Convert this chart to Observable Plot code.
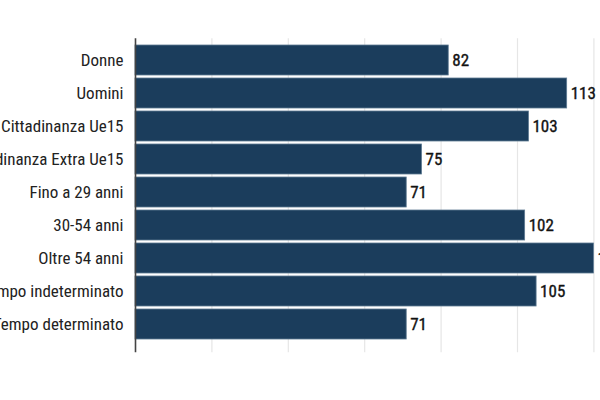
<!DOCTYPE html>
<html>
<head>
<meta charset="utf-8">
<script src="https://cdn.jsdelivr.net/npm/d3@7"></script>
<script src="https://cdn.jsdelivr.net/npm/@observablehq/plot@0.6"></script>
<style>
  html, body { margin: 0; padding: 0; background: #fff; }
  #chart svg { display: block; }
</style>
</head>
<body>
<div id="chart"></div>
<script>
const categories = [
  "Donne",
  "Uomini",
  "Cittadinanza Ue15",
  "Cittadinanza Extra Ue15",
  "Fino a 29 anni",
  "30-54 anni",
  "Oltre 54 anni",
  "Tempo indeterminato",
  "Tempo determinato"
];
const values = [82, 113, 103, 75, 71, 102, 120, 105, 71];
const gridTicks = [20, 40, 60, 80, 100, 120];

const data = categories.map((c, i) => ({cat: c, value: values[i]}));
const font = "'Liberation Sans Narrow', 'Roboto Condensed', 'DejaVu Sans Condensed', sans-serif";

const chart = Plot.plot({
  width: 600,
  height: 400,
  marginLeft: 135,
  marginRight: 6.6,
  marginTop: 39.3,
  marginBottom: 55.8,
  style: {fontFamily: font, fontSize: "17px", color: "#222", background: "#fff", overflow: "hidden"},
  x: {domain: [0, 120], axis: null},
  y: {domain: categories, padding: 0.1, axis: null},
  marks: [
    Plot.ruleX(gridTicks, {stroke: "#e6e6e6", strokeWidth: 1.2, insetTop: -1, insetBottom: -8}),
    Plot.barX(data, {x: "value", y: "cat", fill: "#1b3d5c", stroke: "#5e7a92", strokeWidth: 0.8}),
    Plot.text(data, {x: "value", y: "cat", text: d => String(d.value), dx: 3.5, textAnchor: "start", fill: "#111", fontSize: 17, stroke: "#111", strokeWidth: 0.35}),
    Plot.axisY({tickSize: 0, tickPadding: 12, fontSize: 17, fill: "#222", label: null}),
    Plot.ruleX([0], {stroke: "#444", strokeWidth: 1.6, insetTop: -1, insetBottom: -8})
  ]
});
document.getElementById("chart").appendChild(chart);
</script>
</body>
</html>
